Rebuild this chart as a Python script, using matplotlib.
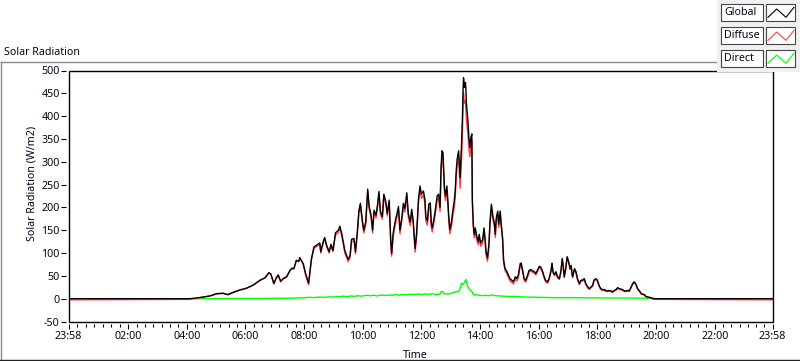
import matplotlib
matplotlib.use("Agg")
import matplotlib.pyplot as plt
from matplotlib.patches import Rectangle
from matplotlib.lines import Line2D

plt.rcParams['font.family'] = ['Noto Sans', 'DejaVu Sans']

# ---------------- data (minutes of day; -2 = 23:58 previous day) ----------------
global_min = [
    -2, 246, 263, 287, 301, 314, 324, 335, 348, 362,
    376, 389, 400, 408, 412, 418, 423, 427, 432, 437,
    444, 451, 455, 459, 464, 469, 471, 478, 483, 489,
    495, 500, 505, 512, 514, 519, 522, 526, 531, 535,
    539, 544, 550, 553, 556, 560, 563, 570, 574, 577,
    582, 585, 589, 592, 595, 599, 602, 606, 610, 613,
    617, 620, 623, 627, 630, 633, 636, 640, 643, 647,
    650, 654, 657, 659, 662, 666, 669, 673, 676, 680,
    683, 686, 690, 693, 697, 700, 703, 707, 710, 714,
    717, 720, 724, 727, 729, 732, 735, 738, 740, 742,
    746, 749, 752, 755, 758, 760, 762, 764, 766, 767,
    769, 772, 774, 776, 778, 781, 784, 787, 789, 791,
    793, 796, 799, 802, 804, 805, 806, 808, 810, 811,
    812, 815, 817, 819, 821, 823, 824, 826, 828, 830,
    833, 836, 838, 841, 845, 848, 850, 852, 855, 858,
    860, 863, 866, 869, 871, 873, 876, 878, 881, 883,
    886, 888, 891, 895, 898, 901, 905, 908, 912, 915,
    918, 922, 924, 927, 930, 933, 937, 940, 944, 947,
    951, 954, 957, 961, 964, 968, 971, 974, 978, 981,
    985, 987, 989, 992, 995, 998, 1002, 1005, 1008, 1010,
    1012, 1015, 1018, 1021, 1024, 1026, 1029, 1033, 1036, 1039,
    1043, 1046, 1050, 1053, 1056, 1060, 1063, 1067, 1070, 1073,
    1077, 1080, 1084, 1087, 1090, 1094, 1097, 1101, 1104, 1108,
    1111, 1114, 1118, 1121, 1125, 1128, 1131, 1135, 1138, 1142,
    1145, 1149, 1152, 1155, 1159, 1162, 1166, 1169, 1172, 1176,
    1179, 1183, 1186, 1190, 1195, 1438,
]
global_rad = [
    0, 0, 2, 6, 11, 12, 9, 14, 19, 23,
    30, 40, 46, 57, 54, 33, 46, 52, 38, 44,
    48, 62, 67, 66, 84, 82, 90, 77, 55, 34,
    88, 113, 117, 122, 103, 125, 134, 117, 103, 119,
    106, 144, 150, 159, 147, 125, 106, 86, 95, 130,
    132, 103, 150, 193, 209, 172, 150, 168, 240, 202,
    183, 150, 194, 183, 205, 235, 191, 180, 229, 213,
    187, 216, 130, 99, 143, 168, 183, 202, 150, 180,
    209, 198, 232, 187, 168, 196, 172, 110, 143, 220,
    247, 229, 236, 218, 178, 170, 207, 210, 166, 155,
    178, 200, 225, 229, 200, 288, 324, 320, 265, 243,
    225, 247, 214, 177, 152, 166, 192, 214, 236, 280,
    306, 324, 265, 339, 405, 456, 484, 463, 474, 456,
    427, 390, 353, 331, 353, 361, 221, 163, 141, 155,
    137, 125, 141, 122, 129, 155, 133, 104, 89, 119,
    166, 207, 181, 166, 141, 177, 192, 163, 192, 165,
    132, 84, 66, 59, 51, 44, 40, 37, 48, 44,
    51, 77, 78, 62, 44, 40, 51, 62, 64, 61,
    59, 55, 62, 71, 69, 59, 48, 40, 37, 44,
    62, 78, 59, 53, 59, 49, 44, 59, 88, 71,
    48, 66, 92, 81, 66, 73, 48, 66, 59, 44,
    33, 40, 41, 44, 33, 26, 22, 26, 29, 41,
    44, 40, 27, 22, 20, 20, 18, 17, 18, 17,
    15, 18, 20, 24, 22, 21, 20, 17, 17, 18,
    17, 26, 33, 37, 31, 22, 17, 12, 10, 9,
    5, 4, 3, 2, 0, 0,
]
diffuse_rad = [
    -2.5, -1.5, 1.5, 5.5, 10.5, 11.5, 8.5, 13.5, 18.5, 22.5,
    29.5, 39.5, 45.5, 56.5, 53.5, 32.5, 45, 51, 37, 43,
    47, 61, 66, 65, 83, 81, 89, 76, 52, 31,
    85, 110, 114, 119, 100, 122, 131, 114, 100, 116,
    103, 139, 145, 154, 142, 120, 101, 81, 90, 125,
    127, 98, 145, 188, 204, 167, 144, 162, 234, 196,
    177, 144, 188, 177, 199, 229, 185, 174, 223, 207,
    181, 210, 124, 93, 135, 160, 175, 194, 142, 172,
    201, 190, 224, 179, 160, 188, 164, 102, 135, 212,
    239, 220, 227, 209, 169, 161, 198, 201, 157, 146,
    169, 191, 216, 220, 191, 274, 308, 305, 254, 233,
    215, 237, 204, 167, 142, 156, 180, 199, 221, 265,
    291, 308, 242, 307, 372, 425, 452, 428, 434, 414,
    390, 362, 329, 311, 335, 345, 208, 154, 133, 148,
    130, 118, 134, 115, 122, 148, 126, 97, 82, 112,
    159, 200, 174, 159, 134, 170, 185, 156, 186, 159,
    126, 79, 61, 54, 46, 39, 35, 32, 43, 39,
    46, 72, 73, 58, 40, 36, 47, 58, 61, 58,
    56, 52, 59, 68, 66, 56, 45, 37, 34, 41,
    59, 75, 56, 50, 56, 46, 42, 57, 86, 69,
    46, 64, 90, 79, 64, 71, 46, 64, 57, 42,
    31, 38, 39, 42, 31, 24, 20, 24, 27, 39,
    42, 38, 25, 20, 18, 18, 16, 15.5, 16.5, 15.5,
    13.5, 16.5, 18.5, 22.5, 20.5, 19.5, 18.5, 15.5, 15.5, 16.5,
    15.5, 24.5, 31.5, 35.5, 29.5, 20.5, 15.5, 10.5, 9, 8,
    4, 3, 2, 1, -1.5, -2.5,
]
direct_min = [
    -2, 270, 300, 330, 360, 390, 420, 450, 480, 490,
    500, 510, 520, 530, 538, 545, 553, 560, 568, 575,
    583, 590, 596, 600, 607, 615, 622, 630, 637, 645,
    652, 660, 667, 675, 682, 690, 697, 705, 712, 720,
    727, 735, 742, 750, 758, 760, 763, 766, 775, 785,
    792, 796, 799, 802, 805, 808, 811, 814, 818, 823,
    826, 835, 843, 850, 858, 865, 872, 880, 895, 910,
    925, 940, 960, 980, 1000, 1050, 1100, 1150, 1190, 1200,
    1438,
]
direct_rad = [
    0, 0, 0, 0.3, 0.5, 0.5, 1, 1, 2, 3,
    2.5, 3.5, 3, 4, 3.5, 5, 4.5, 5.5, 4.5, 6,
    5, 6.5, 5.5, 6, 7.5, 6.5, 7.5, 6, 8, 7,
    8, 7.5, 9, 7.5, 9, 8.5, 10, 9, 10.5, 9,
    10.5, 9.5, 11, 9, 10, 15, 16, 11, 10, 13,
    16, 15, 23, 34, 31, 36, 42, 28, 20, 16,
    9, 8, 6.5, 7.5, 6.5, 8, 6.5, 6, 5, 5,
    4, 3.5, 3, 2.5, 2, 2, 1.5, 1.5, 0.5, 0,
    0,
]
series_names = ["Global", "Diffuse", "Direct"]
series_colors = ["#000000", "#ff4040", "#00ff00"]
x_tick_min = [-2, 120, 240, 360, 480, 600, 720, 840, 960, 1080, 1200, 1320, 1438]
x_tick_labels = ["23:58", "02:00", "04:00", "06:00", "08:00", "10:00", "12:00",
                 "14:00", "16:00", "18:00", "20:00", "22:00", "23:58"]
y_ticks = [-50, 0, 50, 100, 150, 200, 250, 300, 350, 400, 450, 500]

# ---------------- figure ----------------
W, H = 800, 361
fig = plt.figure(figsize=(W / 100, H / 100), dpi=100)
fig.patch.set_facecolor("white")


def fx(x):
    return x / W


def fy(y):
    return 1 - y / H


FS = 7.7
TXT = "#05051a"

ax = fig.add_axes([fx(68.5), fy(321.5), (772.5 - 68.5) / W, (321.5 - 70.5) / H])
ax.set_facecolor("white")

ax.plot(direct_min, direct_rad, color=series_colors[2], lw=1.0, zorder=2)
ax.plot(global_min, diffuse_rad, color=series_colors[1], lw=1.0, zorder=3)
ax.plot(global_min, global_rad, color=series_colors[0], lw=1.0, zorder=4)

ax.set_xlim(x_tick_min[0], x_tick_min[-1])
ax.set_ylim(-50, 500)

for s in ax.spines.values():
    s.set_color("none")
ax.spines["left"].set_position(("outward", 1.5))
ax.spines["bottom"].set_position(("outward", 1.5))
ax.add_patch(Rectangle((0, 0), 1, 1, transform=ax.transAxes, fill=False,
                       ec="black", lw=1.0, clip_on=False, zorder=6))

ax.set_yticks(y_ticks)
ax.set_yticklabels([str(v) for v in y_ticks])
ax.set_xticks(x_tick_min)
ax.set_xticklabels(x_tick_labels)
minor = []
for a, b in zip(x_tick_min[:-1], x_tick_min[1:]):
    minor += [a + k * (b - a) / 7 for k in range(1, 7)]
ax.set_xticks(minor, minor=True)

ax.tick_params(axis="y", direction="out", length=3.3, width=0.8, pad=1.5,
               labelsize=FS, labelcolor=TXT)
ax.tick_params(axis="x", which="major", direction="out", length=3.6, width=0.8,
               pad=2.0, labelsize=FS, labelcolor=TXT)
ax.tick_params(axis="x", which="minor", direction="out", length=2.0, width=0.8)

# texts
fig.text(fx(4), fy(55), "Solar Radiation", ha="left", va="baseline",
         fontsize=FS, color=TXT)
fig.text(fx(415.5), fy(358), "Time", ha="center", va="baseline",
         fontsize=FS, color=TXT)
fig.text(fx(32.5), fy(183.5), "Solar Radiation (W/m2)", rotation=90,
         ha="center", va="center", fontsize=FS, color=TXT)

# outer frame
fig.lines.append(Line2D([fx(0.5), fx(718)], [fy(61.5), fy(61.5)],
                        transform=fig.transFigure, color="#8a8a8a", lw=1.0))
fig.lines.append(Line2D([fx(0.5), fx(0.5)], [fy(61.5), fy(359.5)],
                        transform=fig.transFigure, color="#8a8a8a", lw=1.0))
fig.lines.append(Line2D([fx(0), fx(800)], [fy(359.8), fy(359.8)],
                        transform=fig.transFigure, color="#222222", lw=1.0))

# legend panel
fig.patches.append(Rectangle((fx(717), fy(71.8)), (W - 717) / W, 71.8 / H,
                             transform=fig.transFigure, fc="#f0f0f0", ec="none",
                             zorder=10))
for i, (name, col) in enumerate(zip(series_names, series_colors)):
    c = 12.3 + 23 * i
    fig.patches.append(Rectangle((fx(721), fy(c + 8.3)), 42 / W, 16.6 / H,
                                 transform=fig.transFigure, fc="white",
                                 ec="#444444", lw=0.8, zorder=11))
    fig.patches.append(Rectangle((fx(766), fy(c + 8.3)), 29 / W, 16.6 / H,
                                 transform=fig.transFigure, fc="white",
                                 ec="#444444", lw=0.8, zorder=11))
    fig.text(fx(724), fy(c), name, ha="left", va="center", fontsize=FS,
             color=TXT, zorder=12)
    fig.lines.append(Line2D([fx(768), fx(776.7), fx(786), fx(794)],
                            [fy(c + 5), fy(c - 3.3), fy(c + 5), fy(c - 5)],
                            transform=fig.transFigure, color=col, lw=0.8,
                            zorder=12))

fig.savefig("out.png", dpi=100)
